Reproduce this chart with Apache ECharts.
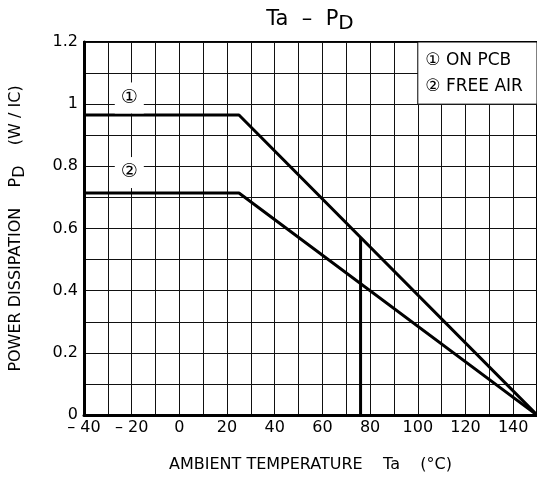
<!DOCTYPE html>
<html><head><meta charset="utf-8">
<script src="https://cdn.jsdelivr.net/npm/echarts@6/dist/echarts.min.js"></script>
<style>html,body{margin:0;padding:0;background:#fff}#c{width:537px;height:480px}</style>
</head><body><div id="c"></div>
<script>
// ---- data ----
const onPcbTemp = [-40, 25, 150];
const onPcbPower = [0.965, 0.965, 0];
const freeAirTemp = [-40, 25, 150];
const freeAirPower = [0.714, 0.714, 0];
const markerTemp = [76, 76];
const markerPower = [0, 0.571];
const xTickValues = [-40, -20, 0, 20, 40, 60, 80, 100, 120, 140];
const xTickLabels = ['– 40', '– 20', '0', '20', '40', '60', '80', '100', '120', '140'];
const yTickValues = [0, 0.2, 0.4, 0.6, 0.8, 1.0, 1.2];
const yTickLabels = ['0', '0.2', '0.4', '0.6', '0.8', '1', '1.2'];
const curveTags = ['①', '②'];
const tagTemp = [-21, -21];
const tagPower = [1.02, 0.78];
const legendLines = ['① ON PCB', '② FREE AIR'];
const legendTempRange = [100, 150];
const legendPowerRange = [1.0, 1.2];

const FONT = 'DejaVu Sans';
const pairs = (xs, ys) => xs.map((x, i) => [x, ys[i]]);

const chart = echarts.init(document.getElementById('c'), null, {renderer: 'canvas'});
chart.setOption({
  animation: false,
  backgroundColor: '#fff',
  title: {
    text: 'Ta  –  P{sub|D}',
    left: 305, top: 0, textAlign: 'center',
    textStyle: {
      fontFamily: FONT, fontSize: 21, fontWeight: 'normal', color: '#000',
      rich: { sub: { fontFamily: FONT, fontSize: 20, color: '#000', padding: [9, 0, 0, 0] } }
    }
  },
  grid: { left: 84, right: 0, top: 42, bottom: 65, show: true, borderColor: '#000', borderWidth: 2,
          containLabel: false, outerBoundsMode: 'none' },
  xAxis: {
    type: 'value', min: -40, max: 150, interval: 10,
    name: 'AMBIENT TEMPERATURE    Ta    (°C)', nameLocation: 'middle', nameGap: 42,
    nameTextStyle: { fontFamily: FONT, fontSize: 16, color: '#000' },
    axisLine: { show: true, onZero: false, lineStyle: { color: '#000', width: 3 } },
    axisTick: { show: false },
    axisLabel: {
      fontFamily: FONT, fontSize: 16, color: '#000', margin: 5, showMaxLabel: true,
      formatter: v => { const i = xTickValues.indexOf(Math.round(v)); return i >= 0 ? xTickLabels[i] : ''; }
    },
    splitLine: { show: true, lineStyle: { color: '#111', width: 1 } }
  },
  yAxis: {
    type: 'value', min: 0, max: 1.2, interval: 0.1,
    name: 'POWER DISSIPATION    P{sub|D}    (W / IC)', nameLocation: 'middle', nameGap: 56,
    nameTextStyle: { fontFamily: FONT, fontSize: 16, color: '#000',
      rich: { sub: { fontFamily: FONT, fontSize: 16, color: '#000', padding: [8, 0, 0, 0] } } },
    axisLine: { show: true, onZero: false, lineStyle: { color: '#000', width: 3 } },
    axisTick: { show: false },
    axisLabel: {
      fontFamily: FONT, fontSize: 16, color: '#000', margin: 6,
      formatter: v => { const i = yTickValues.findIndex(t => Math.abs(t - v) < 1e-6); return i >= 0 ? yTickLabels[i] : ''; }
    },
    splitLine: { show: true, lineStyle: { color: '#111', width: 1 } }
  },
  series: [
    {
      type: 'line', name: 'ON PCB', data: pairs(onPcbTemp, onPcbPower), symbol: 'none',
      lineStyle: { color: '#000', width: 3 }, z: 5,
      markArea: {
        silent: true,
        itemStyle: { color: '#fff', opacity: 1, borderColor: '#000', borderWidth: 1 },
        label: {
          show: true, position: 'insideLeft', distance: 8,
          fontFamily: FONT, fontSize: 17, color: '#000', lineHeight: 26, padding: [6, 0, 0, 0],
          formatter: legendLines.join('\n')
        },
        data: [[{ coord: [legendTempRange[0], legendPowerRange[1]] }, { coord: [legendTempRange[1], legendPowerRange[0]] }]]
      }
    },
    { type: 'line', name: 'FREE AIR', data: pairs(freeAirTemp, freeAirPower), symbol: 'none',
      lineStyle: { color: '#000', width: 3 }, z: 5 },
    { type: 'line', name: 'marker', data: pairs(markerTemp, markerPower), symbol: 'none',
      lineStyle: { color: '#000', width: 3 }, z: 5 },
    {
      type: 'scatter', data: pairs(tagTemp, tagPower), symbolSize: 0, z: 6,
      itemStyle: { color: '#000', opacity: 1 },
      label: {
        show: true, position: 'inside', fontFamily: FONT, fontSize: 19, color: '#000', opacity: 1,
        backgroundColor: '#fff', padding: [6, 6],
        formatter: p => curveTags[p.dataIndex]
      }
    }
  ]
});
</script></body></html>
